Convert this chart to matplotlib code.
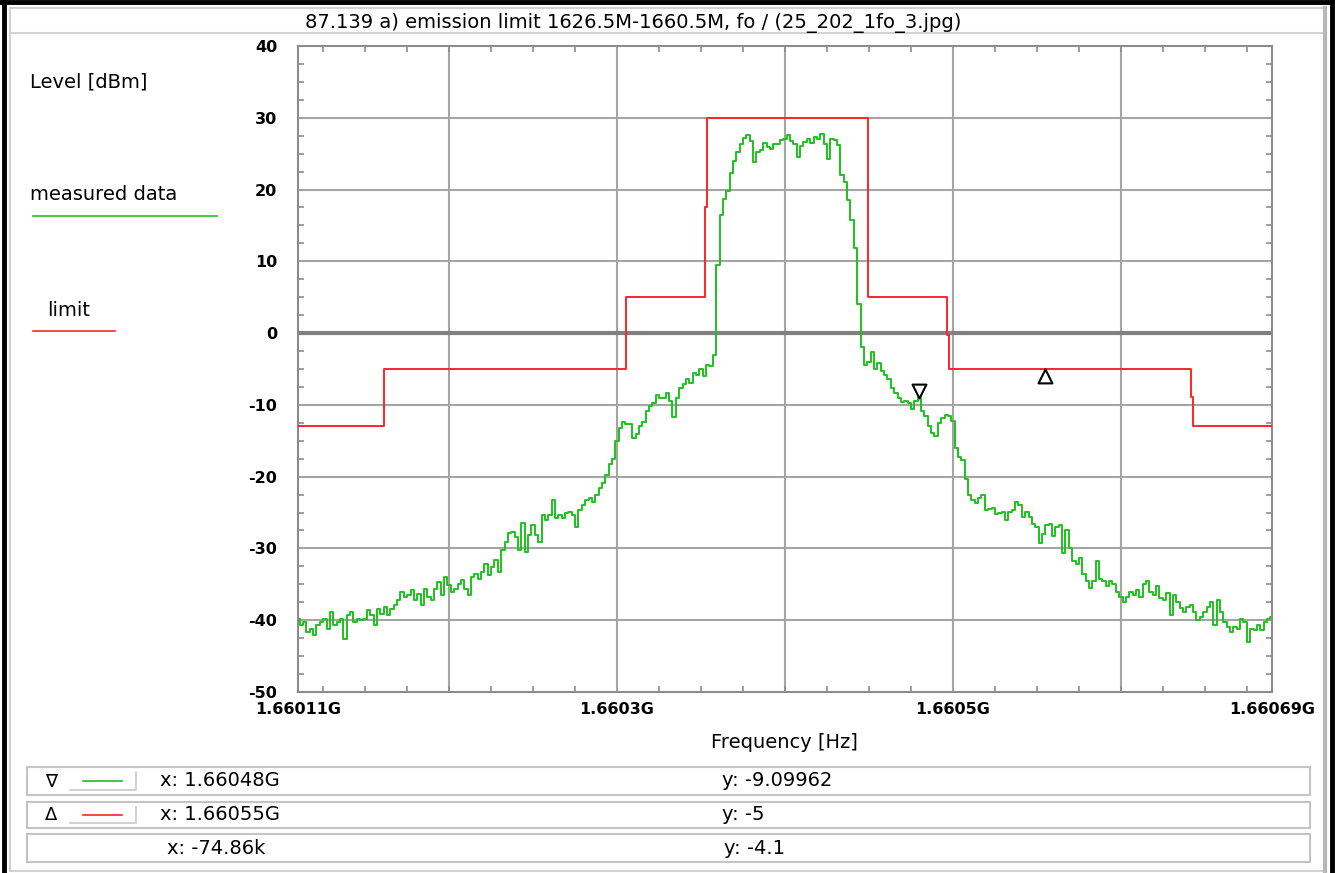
import matplotlib.pyplot as plt
import numpy as np
from matplotlib.lines import Line2D
from matplotlib.patches import Rectangle
from matplotlib.path import Path
from matplotlib.ticker import MultipleLocator

plt.rcParams['font.family'] = ['DejaVu Sans']

W, H = 1335, 873

# sweep: 291 points, 1.66011 GHz .. 1.66069 GHz
f_start, f_stop = 1.66011e9, 1.66069e9
level = [
    -39.8, -40.7, -40.2, -41.6, -41.2, -42.1, -40.7, -40.2, -39.8, -41.2,
    -38.8, -40.7, -40.2, -39.8, -42.6, -39.3, -38.8, -40.2, -39.8, -40.0,
    -39.8, -38.6, -39.3, -40.7, -38.4, -39.1, -38.1, -39.3, -38.4, -37.9,
    -37.2, -36.0, -36.7, -36.5, -35.8, -37.2, -36.3, -37.9, -35.6, -36.7,
    -37.2, -35.6, -34.7, -36.5, -34.0, -35.1, -36.0, -35.6, -34.9, -34.4,
    -35.6, -36.5, -34.0, -33.5, -34.2, -33.3, -32.1, -33.7, -32.6, -31.6,
    -33.3, -30.2, -29.1, -27.9, -27.7, -28.4, -30.2, -26.5, -30.5, -28.1,
    -26.7, -28.1, -29.1, -25.3, -26.0, -25.3, -23.3, -25.8, -25.3, -25.8,
    -25.1, -24.9, -25.3, -27.0, -24.7, -24.0, -23.3, -23.0, -23.5, -22.6,
    -21.6, -20.9,
    -19.8, -18.3, -17.5, -15.0, -13.2, -12.4, -12.7, -12.6, -14.6, -14.0,
    -13.0, -12.4, -10.8, -10.1, -9.7, -8.6, -9.1, -9.1, -8.3, -9.5,
    -11.7, -9.0, -7.6, -7.1, -6.4, -6.9, -5.5, -5.8, -5.0, -6.0,
    -4.5, -4.6, -3.0, 9.5, 16.5, 18.7, 19.8, 22.3, 24.0, 25.3,
    26.4, 27.2, 27.6, 26.8, 23.8, 25.3, 25.5, 26.5, 25.9, 25.7,
    26.4, 26.4, 26.9, 27.1, 27.6, 26.7, 26.4, 24.5, 26.0, 26.6,
    27.1, 26.5, 27.3, 27.1, 27.8, 26.4, 24.3, 27.1, 26.9, 26.2,
    22.0, 21.0, 18.5, 15.7, 11.9, 4.0, -2.0, -4.5, -4.0, -2.6,
    -5.0,
    -4.2, -5.3, -5.9, -6.4, -7.7, -8.3, -9.0, -9.6, -9.4, -9.8,
    -10.6, -9.4, -9.1, -10.9, -11.6, -13.0, -13.9, -14.3, -12.5, -11.8,
    -11.4, -11.6, -12.3, -16.0, -17.2, -17.7, -20.3, -22.5, -23.3, -23.7,
    -23.0, -22.5, -24.7, -24.5, -24.3, -25.2, -25.0,
    -24.9, -26.1, -24.9, -24.7, -23.5, -24.0, -25.6, -24.9, -25.6, -26.6,
    -27.0, -29.2, -28.0, -26.8, -26.6, -28.2, -27.0, -26.8, -30.6, -27.5,
    -29.9, -31.7, -32.2, -31.3, -33.6, -34.6, -35.5, -34.6, -31.7, -34.3,
    -34.6, -35.3, -34.6, -35.0, -36.0, -36.7, -37.4, -36.7, -36.0, -36.5,
    -35.8, -36.7, -35.0, -34.6, -36.0, -36.5, -35.3, -36.9, -37.2, -36.2,
    -39.3, -36.5, -37.4, -38.3, -38.8, -38.1, -37.9, -38.8, -40.0, -39.5,
    -38.8, -38.1, -37.4, -40.7, -37.2, -38.8, -40.2, -40.9, -41.7, -40.9,
    -41.2, -39.8, -40.2, -43.1, -41.2, -41.4, -40.7, -41.4, -40.2, -39.8,
    -39.5,
]
freq = np.linspace(f_start, f_stop, len(level))

# emission limit mask (MHz, dBm)
limit_freq_mhz = [1660.110, 1660.1612, 1660.1612, 1660.3054, 1660.3054,
                  1660.3524, 1660.3524, 1660.3538, 1660.3538, 1660.4497,
                  1660.4497, 1660.4967, 1660.4967, 1660.4977, 1660.4977,
                  1660.6417, 1660.6417, 1660.6427, 1660.6427, 1660.690]
limit_level = [-13, -13, -5, -5, 5,
               5, 17.5, 17.5, 30, 30,
               5, 5, -0.3, -0.3, -5,
               -5, -8.9, -8.9, -13, -13]

# markers
m1_freq, m1_level = 1.66048e9, -9.09962
m2_freq, m2_level = 1.66055486e9, -5.0

xtick_freq = [1.66011e9, 1.6603e9, 1.6605e9, 1.66069e9]
grid_freq = [1.6602e9, 1.6603e9, 1.6604e9, 1.6605e9, 1.6606e9]
ytick_level = list(range(-50, 41, 10))

GREEN = '#1ec21e'
RED = '#ff2626'
GRID = '#a4a4a4'
FRAME = '#8c8c8c'
TXT = 14


def fx(x):
    return x / W


def fy(y):
    return 1 - y / H


fig = plt.figure(figsize=(W / 100, H / 100), dpi=100)
ax = fig.add_axes([fx(298), fy(692), (1272 - 298) / W, (692 - 46) / H])

for f in grid_freq:
    ax.axvline(f, color=GRID, lw=1.5, zorder=1)
for lv in ytick_level[1:-1]:
    if lv != 0:
        ax.axhline(lv, color=GRID, lw=1.5, zorder=1)
ax.axhline(0, color='#808080', lw=3, zorder=1.5)

ax.plot(np.array(limit_freq_mhz) * 1e6, limit_level, color=RED, lw=1.4, zorder=3)
ax.plot(freq, level, color=GREEN, lw=1.4, drawstyle='steps-mid', zorder=2)

# marker glyphs: tip sits on the marked point
tri_down = Path([(-0.5, 1.0), (0.5, 1.0), (0.0, 0.0), (-0.5, 1.0)],
                [Path.MOVETO, Path.LINETO, Path.LINETO, Path.CLOSEPOLY])
tri_up = Path([(-0.5, -1.0), (0.5, -1.0), (0.0, 0.0), (-0.5, -1.0)],
              [Path.MOVETO, Path.LINETO, Path.LINETO, Path.CLOSEPOLY])
ax.plot([m1_freq], [m1_level], marker=tri_down, ms=20, mfc='white',
        mec='black', mew=1.5, ls='none', zorder=4)
ax.plot([m2_freq], [m2_level], marker=tri_up, ms=20, mfc='white',
        mec='black', mew=1.5, ls='none', zorder=4)

ax.set_xlim(f_start, f_stop)
ax.set_ylim(-50, 40)
ax.set_xticks(xtick_freq, [f'{f / 1e9:g}G' for f in xtick_freq],
              fontweight='bold', fontsize=11.5)
ax.set_yticks(ytick_level, [str(v) for v in ytick_level],
              fontweight='bold', fontsize=11.5)
ax.xaxis.set_minor_locator(MultipleLocator(25e3))
ax.yaxis.set_minor_locator(MultipleLocator(2.5))
ax.tick_params(axis='x', which='major', length=0, pad=7)
ax.tick_params(axis='y', which='major', length=0, pad=15)
ax.tick_params(which='minor', direction='in', length=4, width=1.2,
               color=FRAME, top=True, right=True)
for sp in ax.spines.values():
    sp.set_color(FRAME)
    sp.set_linewidth(1.5)

# window frame and title bar
fig.add_artist(Rectangle((fx(10), fy(871)), (1325 - 10) / W, (871 - 8) / H,
                         transform=fig.transFigure, fill=False,
                         ec='#d2d2d2', lw=1.5))
fig.add_artist(Line2D([fx(10), fx(1325)], [fy(33), fy(33)], color='#d2d2d2', lw=1.5))
fig.add_artist(Line2D([fx(1325), fx(1325)], [fy(8), fy(871)], color='#b8b8b8', lw=3))
fig.add_artist(Line2D([fx(4), fx(4)], [0, 1], color='black', lw=3.5))
fig.add_artist(Line2D([0, 1], [fy(2), fy(2)], color='black', lw=3.5))
fig.add_artist(Line2D([fx(1332), fx(1332)], [0, 1], color='black', lw=3.5))

fig.text(fx(633), fy(23), '87.139 a) emission limit 1626.5M-1660.5M, fo / (25_202_1fo_3.jpg)',
         ha='center', va='center', fontsize=TXT)

# legend panel
fig.text(fx(30), fy(82), 'Level [dBm]', ha='left', va='center', fontsize=TXT)
fig.text(fx(30), fy(195), 'measured data', ha='left', va='center', fontsize=TXT)
fig.add_artist(Line2D([fx(33), fx(217)], [fy(215.5), fy(215.5)], color=GREEN, lw=1.2))
fig.text(fx(47), fy(310), 'limit', ha='left', va='center', fontsize=TXT)
fig.add_artist(Line2D([fx(33), fx(115)], [fy(331), fy(331)], color=RED, lw=1.2))

fig.text(fx(784), fy(743), 'Frequency [Hz]', ha='center', va='center', fontsize=TXT)

# marker readout rows
rows = [
    (767, 795, '\u2207', GREEN, f'x: {m1_freq / 1e9:.5f}G', f'y: {m1_level:g}', 160, 722),
    (802, 828, '\u0394', RED, f'x: {m2_freq / 1e9:.5f}G', f'y: {m2_level:g}', 160, 722),
    (834, 862, None, None, f'x: {(m1_freq - m2_freq) / 1e3:.2f}k',
     f'y: {m1_level - m2_level:.1f}', 167, 724),
]
for top, bot, sym, col, xtxt, ytxt, xpos, ypos in rows:
    fig.add_artist(Rectangle((fx(27), fy(bot)), (1310 - 27) / W, (bot - top) / H,
                             transform=fig.transFigure, fill=False,
                             ec='#c4c4c4', lw=1.5))
    yc = (top + bot) / 2
    if sym:
        fig.text(fx(51), fy(yc), sym, ha='center', va='center', fontsize=13)
        fig.add_artist(Line2D([fx(83), fx(122)], [fy(yc), fy(yc)], color=col, lw=1.2))
        fig.add_artist(Line2D([fx(70), fx(136), fx(136)],
                              [fy(bot - 5), fy(bot - 5), fy(top + 5)],
                              color='#c8c8c8', lw=1.2))
    fig.text(fx(xpos), fy(yc), xtxt, ha='left', va='center', fontsize=TXT)
    fig.text(fx(ypos), fy(yc), ytxt, ha='left', va='center', fontsize=TXT)

fig.savefig('out.png', dpi=100)
